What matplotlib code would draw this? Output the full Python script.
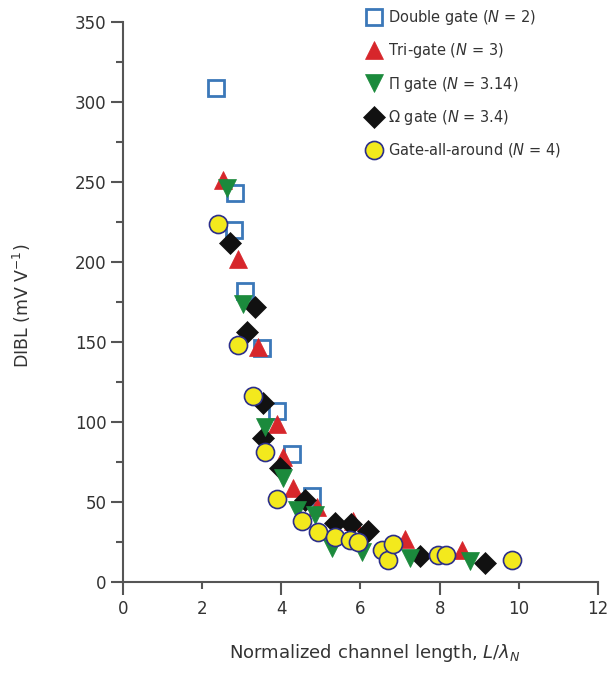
import matplotlib
matplotlib.use('Agg')
import matplotlib.pyplot as plt
from matplotlib.ticker import MultipleLocator

plt.rcParams['font.family'] = ['DejaVu Sans']
plt.rcParams['mathtext.fontset'] = 'dejavusans'
plt.rcParams['mathtext.default'] = 'regular'

# data
dg_x = [2.35, 2.83, 2.80, 3.08, 3.51, 3.89, 4.27, 4.77]
dg_y = [309, 243, 220, 182, 146, 107, 80, 54]

tri_x = [2.53, 2.90, 3.41, 3.90, 4.05, 4.30, 4.90, 5.80, 7.12, 8.56]
tri_y = [251, 202, 147, 99, 78, 59, 47, 38, 27, 20]

pi_x = [2.63, 3.03, 3.59, 4.04, 4.39, 4.85, 5.28, 6.05, 7.25, 8.76]
pi_y = [246, 174, 97, 65, 45, 42, 21, 19, 15, 13]

om_x = [2.70, 3.33, 3.13, 3.54, 3.54, 3.96, 4.60, 5.35, 5.75, 6.20, 7.50, 9.14]
om_y = [212, 172, 156, 112, 90, 71, 51, 37, 36, 32, 16, 12]

gaa_x = [2.40, 2.90, 3.29, 3.59, 3.89, 4.52, 4.92, 5.35, 5.73, 5.94, 6.55, 6.70, 6.82, 7.95, 8.17, 9.83]
gaa_y = [224, 148, 116, 81, 52, 38, 31, 28, 26, 25, 20, 14, 24, 17, 17, 14]

labels = ['Double gate ($\\mathit{N}$ = 2)', 'Tri-gate ($\\mathit{N}$ = 3)',
          '\u03a0 gate ($\\mathit{N}$ = 3.14)', '\u03a9 gate ($\\mathit{N}$ = 3.4)',
          'Gate-all-around ($\\mathit{N}$ = 4)']

txt = '#333333'
fig = plt.figure(figsize=(6.1, 6.75), dpi=100)
ax = fig.add_axes([0.2016, 0.1378, 0.7787, 0.8296])

h1, = ax.plot(dg_x, dg_y, 's', ms=11, mfc='white', mec='#3b78b9', mew=2, zorder=2, label=labels[0])
h2, = ax.plot(tri_x, tri_y, '^', ms=13, mfc='#d7262b', mec='#d7262b', mew=0.5, zorder=3, label=labels[1])
h4, = ax.plot(om_x, om_y, 'D', ms=11, mfc='#111111', mec='#111111', mew=0.5, zorder=4, label=labels[3])
h3, = ax.plot(pi_x, pi_y, 'v', ms=13, mfc='#1b8a3c', mec='#1b8a3c', mew=0.5, zorder=5, label=labels[2])
h5, = ax.plot(gaa_x, gaa_y, 'o', ms=13, mfc='#f3e91d', mec='#2b2e8a', mew=1.2, zorder=6, label=labels[4])

ax.set_xlim(0, 12)
ax.set_ylim(0, 350)
ax.set_xticks([0, 4, 8, 12])
ax.set_xticks([2, 6, 10], minor=True)
ax.set_xticklabels(['0', '4', '8', '12'])
ax.set_xticklabels(['2', '6', '10'], minor=True)
ax.yaxis.set_major_locator(MultipleLocator(50))
ax.yaxis.set_minor_locator(MultipleLocator(25))

for s in ['top', 'right']:
    ax.spines[s].set_visible(False)
for s in ['left', 'bottom']:
    ax.spines[s].set_color('#555555')
    ax.spines[s].set_linewidth(1.5)

ax.tick_params(axis='both', which='both', colors='#555555', labelcolor=txt, labelsize=12, width=1.5)
ax.tick_params(axis='y', which='major', length=9, pad=3)
ax.tick_params(axis='y', which='minor', length=5)
ax.tick_params(axis='x', which='major', length=9, pad=4)
ax.tick_params(axis='x', which='minor', length=5, pad=8)

ax.set_ylabel('DIBL (mV V$^{-1}$)', fontsize=12.5, color=txt)
ax.yaxis.set_label_coords(-0.19, 0.493)
ax.set_xlabel('Normalized channel length, $\\mathit{L/\\lambda_N}$', fontsize=13, color=txt)
ax.xaxis.set_label_coords(0.53, -0.108)

fig.legend(handles=[h1, h2, h3, h4, h5], loc='upper left', bbox_to_anchor=(0.59, 0.999),
           frameon=False, fontsize=10.5, labelspacing=0.98, handlelength=1.0,
           handletextpad=0.45, borderpad=0, labelcolor=txt)

fig.savefig('out.png', dpi=100)
